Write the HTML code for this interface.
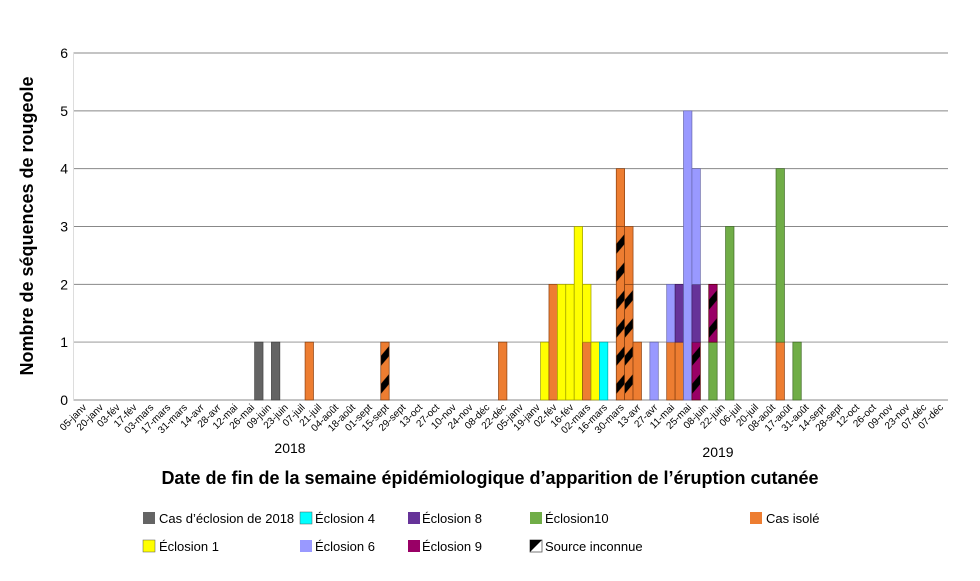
<!DOCTYPE html>
<html><head><meta charset="utf-8">
<style>
body{margin:0;background:#fff;font-family:"Liberation Sans",sans-serif;}
svg text{font-family:"Liberation Sans",sans-serif;}
</style></head>
<body>
<svg id="chart" width="980" height="576" viewBox="0 0 980 576" xmlns="http://www.w3.org/2000/svg">
<defs id="defs"></defs>
<g id="grid"></g>
<g id="bars"></g>
<g id="xlabels"></g>
<text transform="translate(33,226) rotate(-90)" text-anchor="middle" font-size="18" font-weight="bold" fill="#000">Nombre de séquences de rougeole</text>
<text x="490" y="484" text-anchor="middle" font-size="18" font-weight="bold" fill="#000">Date de fin de la semaine épidémiologique d’apparition de l’éruption cutanée</text>
<text x="290" y="453" text-anchor="middle" font-size="14">2018</text>
<text x="718" y="457" text-anchor="middle" font-size="14">2019</text>
<g font-size="13">
<g><rect x="143" y="512" width="12" height="12" fill="#646464"/><text x="159" y="523">Cas d’éclosion de 2018</text></g>
<g><rect x="300" y="512" width="12" height="12" fill="#00FFFF" stroke="#555" stroke-width="0.5"/><text x="315" y="523">Éclosion 4</text></g>
<g><rect x="408" y="512" width="12" height="12" fill="#663399"/><text x="422" y="523">Éclosion 8</text></g>
<g><rect x="530" y="512" width="12" height="12" fill="#70AD47"/><text x="545" y="523">Éclosion10</text></g>
<g><rect x="750" y="512" width="12" height="12" fill="#ED7D31"/><text x="766" y="523">Cas isolé</text></g>
<g><rect x="143" y="540" width="12" height="12" fill="#FFFF00" stroke="#555" stroke-width="0.5"/><text x="159" y="551">Éclosion 1</text></g>
<g><rect x="300" y="540" width="12" height="12" fill="#9999FF"/><text x="315" y="551">Éclosion 6</text></g>
<g><rect x="408" y="540" width="12" height="12" fill="#990066"/><text x="422" y="551">Éclosion 9</text></g>
<g><rect x="530" y="540" width="12" height="12" fill="#fff" stroke="#555" stroke-width="0.8"/><polygon points="530,552 542,540 530,540" fill="#000"/><text x="545" y="551">Source inconnue</text></g>
</g>
</svg>
<script>
const tickLabels = ["05-janv","20-janv","03-fév","17-fév","03-mars","17-mars","31-mars","14-avr","28-avr","12-mai","26-mai","09-juin","23-juin","07-juil","21-juil","04-août","18-août","01-sept","15-sept","29-sept","13-oct","27-oct","10-nov","24-nov","08-déc","22-déc","05-janv","19-janv","02-fév","16-fév","02-mars","16-mars","30-mars","13-avr","27-avr","11-mai","25-mai","08-juin","22-juin","06-juil","20-juil","08-août","17-août","31-août","14-sept","28-sept","12-oct","26-oct","09-nov","23-nov","07-déc","07-déc"];
const yTicks = [0,1,2,3,4,5,6];
const weekIndex = [21,23,27,36,50,55,56,57,58,59,60,61,62,64,65,66,68,70,71,72,73,75,77,83,85];
const gray    = [1,1,0,0,0,0,0,0,0,0,0,0,0,0,0,0,0,0,0,0,0,0,0,0,0];
const hatchO  = [0,0,0,1,0,0,0,0,0,0,0,0,0,3,2,0,0,0,0,0,0,0,0,0,0];
const hatchM  = [0,0,0,0,0,0,0,0,0,0,0,0,0,0,0,0,0,0,0,0,1,1,0,0,0];
const orange  = [0,0,1,0,1,0,2,0,0,0,1,0,0,1,1,1,0,1,1,0,0,0,0,1,0];
const yellow  = [0,0,0,0,0,1,0,2,2,3,1,1,0,0,0,0,0,0,0,0,0,0,0,0,0];
const cyan    = [0,0,0,0,0,0,0,0,0,0,0,0,1,0,0,0,0,0,0,0,0,0,0,0,0];
const purple  = [0,0,0,0,0,0,0,0,0,0,0,0,0,0,0,0,0,0,1,0,1,0,0,0,0];
const lavender= [0,0,0,0,0,0,0,0,0,0,0,0,0,0,0,0,1,1,0,5,2,0,0,0,0];
const green   = [0,0,0,0,0,0,0,0,0,0,0,0,0,0,0,0,0,0,0,0,0,1,3,3,1];

const NS="http://www.w3.org/2000/svg";
const X0=73.5, X1=948, Y0=400, Y6=53;
const bw=8.41, barOff=4.5;
const xS=i=>X0+barOff+i*bw;
const yS=v=>Y0-(v/6)*(Y0-Y6);

const grid=document.getElementById('grid');
yTicks.forEach(t=>{
  const l=document.createElementNS(NS,'line');
  
  
  l.setAttribute('x1',X0);l.setAttribute('x2',X1);
  l.setAttribute('y1',yS(t));l.setAttribute('y2',yS(t));
  l.setAttribute('stroke',t===1?'#bbb':'#888');l.setAttribute('stroke-width',t===1?1.5:1);
  grid.appendChild(l);
  const tx=document.createElementNS(NS,'text');
  
  
  tx.setAttribute('x',68);tx.setAttribute('y',yS(t)+5);
  tx.setAttribute('text-anchor','end');tx.setAttribute('font-size','14');
  tx.textContent=t;grid.appendChild(tx);
});
const ax=document.createElementNS(NS,'line');


ax.setAttribute('x1',X0);ax.setAttribute('x2',X0);ax.setAttribute('y1',Y6);ax.setAttribute('y2',Y0);
ax.setAttribute('stroke','#ddd');grid.appendChild(ax);

const xl=document.getElementById('xlabels');
tickLabels.forEach((s,k)=>{
  const t=document.createElementNS(NS,'text');
  
  
  const x=87+k*16.8, y=408;
  t.setAttribute('transform',`translate(${x},${y}) rotate(-45)`);
  t.setAttribute('text-anchor','end');t.setAttribute('font-size','10');
  t.textContent=s;xl.appendChild(t);
});

const defs=document.getElementById('defs');
let pid=0;
function hatchFill(color,x){
  const id='h'+(pid++);
  const p=document.createElementNS(NS,'pattern');
  
  
  p.setAttribute('id',id);p.setAttribute('patternUnits','userSpaceOnUse');
  p.setAttribute('x',x);p.setAttribute('y',Y0);
  p.setAttribute('width',bw);p.setAttribute('height',28);
  p.innerHTML=`<rect width="${bw}" height="28" fill="${color}"/><polygon points="0,12 ${bw},2 ${bw},12 0,22" fill="#000"/>`;
  defs.appendChild(p);
  return 'url(#'+id+')';
}

const stack=[
  {arr:gray,fill:'#646464',stroke:'#444',name:'gray'},
  {arr:hatchO,hatch:'#ED7D31',stroke:'#7a3a10',name:'unknown-source'},
  {arr:orange,fill:'#ED7D31',stroke:'#8a4010',name:'isolated'},
  {arr:yellow,fill:'#FFFF00',stroke:'#999900',name:'eclosion1'},
  {arr:cyan,fill:'#00FFFF',stroke:'#0aa',name:'eclosion4'},
  {arr:green,fill:'#70AD47',stroke:'#3f6a25',name:'eclosion10'},
  {arr:hatchM,hatch:'#990066',stroke:'#500',name:'eclosion9'},
  {arr:purple,fill:'#663399',stroke:'#3a1a60',name:'eclosion8'},
  {arr:lavender,fill:'#9999FF',stroke:'#6666aa',name:'eclosion6'}
];
const bars=document.getElementById('bars');
weekIndex.forEach((w,j)=>{
  let base=0;
  stack.forEach(s=>{
    const v=s.arr[j]; if(!v) return;
    const r=document.createElementNS(NS,'rect');
    
    
    r.setAttribute('x',xS(w));r.setAttribute('width',bw);
    r.setAttribute('y',yS(base+v));r.setAttribute('height',yS(base)-yS(base+v));
    r.setAttribute('fill',s.hatch?hatchFill(s.hatch,xS(w)):s.fill);
    r.setAttribute('stroke',s.stroke);r.setAttribute('stroke-width','0.7');
    bars.appendChild(r);
    base+=v;
  });
});
</script>
</body></html>
